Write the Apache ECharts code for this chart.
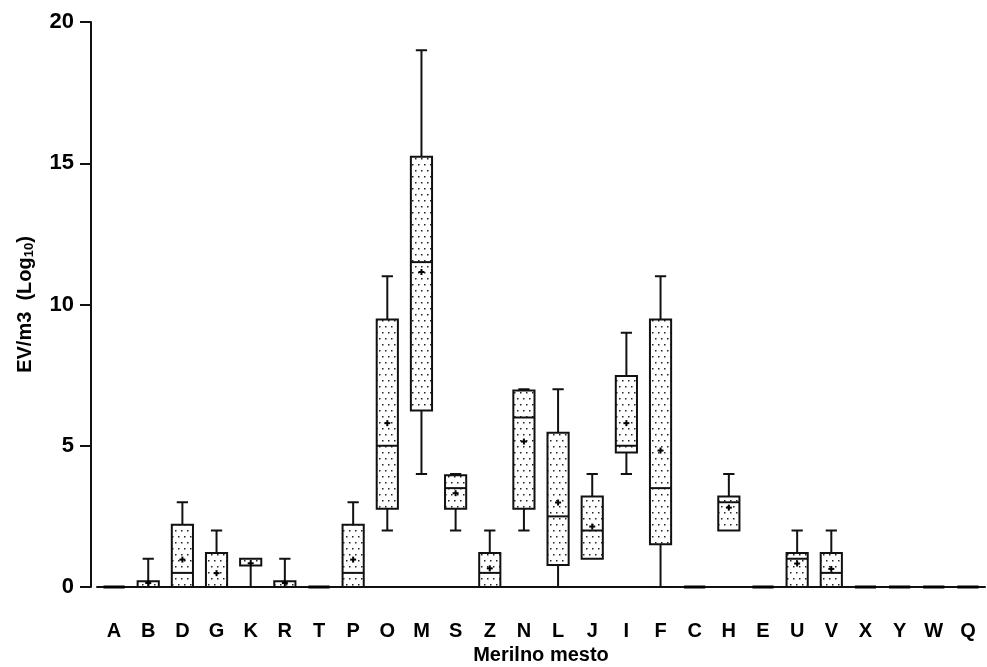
<!DOCTYPE html>
<html>
<head>
<meta charset="utf-8">
<script src="https://cdn.jsdelivr.net/npm/echarts@6/dist/echarts.min.js"></script>
<style>
	html, body { margin: 0; padding: 0; background: #fff; }
	#chart { width: 987px; height: 667px; }
</style>
</head>
<body>
<div id="chart"></div>
<script>
	var categories = ['A', 'B', 'D', 'G', 'K', 'R', 'T', 'P', 'O', 'M', 'S', 'Z', 'N', 'L', 'J', 'I', 'F', 'C', 'H', 'E', 'U', 'V', 'X', 'Y', 'W', 'Q'];
	var minVals    = [0, 0,    0,    0,    0,    0,    0, 0,    2,    4,     2,    0,    2,    0,    1,    4,    0,    0, 2,    0, 0,    0,    0, 0, 0, 0];
	var q1Vals     = [0, 0,    0,    0,    0.76, 0,    0, 0,    2.77, 6.25,  2.77, 0,    2.77, 0.78, 1,    4.76, 1.51, 0, 2,    0, 0,    0,    0, 0, 0, 0];
	var medianVals = [0, 0,    0.5,  0,    1,    0,    0, 0.5,  5,    11.5,  3.5,  0.5,  6,    2.5,  2,    5,    3.5,  0, 3,    0, 1,    0.5,  0, 0, 0, 0];
	var q3Vals     = [0, 0.2,  2.2,  1.2,  1,    0.2,  0, 2.2,  9.47, 15.23, 3.96, 1.2,  6.96, 5.46, 3.2,  7.47, 9.47, 0, 3.2,  0, 1.2,  1.2,  0, 0, 0, 0];
	var maxVals    = [0, 1,    3,    2,    1,    1,    0, 3,    11,   19,    4,    2,    7,    7,    4,    9,    11,   0, 4,    0, 2,    2,    0, 0, 0, 0];
	var meanVals   = [0, 0.14, 0.97, 0.49, 0.84, 0.14, 0, 0.97, 5.8,  11.15, 3.32, 0.66, 5.15, 2.99, 2.14, 5.8,  4.83, 0, 2.81, 0, 0.83, 0.64, 0, 0, 0, 0];
	var yTicks = [0, 5, 10, 15, 20];

	// dotted fill
	var dots = document.createElement('canvas');
	dots.width = 6;
	dots.height = 12;
	var ctx = dots.getContext('2d');
	ctx.fillStyle = '#fff';
	ctx.fillRect(0, 0, 6, 12);
	ctx.fillStyle = '#222';
	ctx.fillRect(1, 2, 1.5, 1.5);
	ctx.fillRect(4, 8, 1.5, 1.5);

	var boxData = categories.map(function (c, i) {
		return [i, minVals[i], q1Vals[i], medianVals[i], q3Vals[i], maxVals[i], meanVals[i]];
	});

	var lineStyle = { stroke: '#111', lineWidth: 2 };

	function renderBox(params, api) {
		var i = api.value(0);
		var x = api.coord([i, 0])[0];
		var step = api.size([1, 0])[0];
		var bw = step * 0.62, cw = step * 0.33;
		function y(v) { return api.coord([i, v])[1]; }
		var mn = api.value(1), q1 = api.value(2), md = api.value(3), q3 = api.value(4), mx = api.value(5), mean = api.value(6);
		var kids = [];
		if (mx > q3) {
			kids.push({ type: 'line', shape: { x1: x, y1: y(q3), x2: x, y2: y(mx) }, style: lineStyle });
			kids.push({ type: 'line', shape: { x1: x - cw / 2, y1: y(mx), x2: x + cw / 2, y2: y(mx) }, style: lineStyle });
		}
		if (mn < q1) {
			kids.push({ type: 'line', shape: { x1: x, y1: y(q1), x2: x, y2: y(mn) }, style: lineStyle });
			kids.push({ type: 'line', shape: { x1: x - cw / 2, y1: y(mn), x2: x + cw / 2, y2: y(mn) }, style: lineStyle });
		}
		if (q3 > q1) {
			kids.push({
				type: 'rect',
				shape: { x: x - bw / 2, y: y(q3), width: bw, height: y(q1) - y(q3) },
				style: { fill: { image: dots, repeat: 'repeat' }, stroke: '#111', lineWidth: 2 }
			});
		} else {
			kids.push({ type: 'line', shape: { x1: x - bw / 2, y1: y(q1), x2: x + bw / 2, y2: y(q1) }, style: { stroke: '#000', lineWidth: 3 } });
		}
		if (md > q1 && md < q3) {
			kids.push({ type: 'line', shape: { x1: x - bw / 2, y1: y(md), x2: x + bw / 2, y2: y(md) }, style: lineStyle });
		}
		if (mean > 0) {
			var my = y(mean);
			kids.push({ type: 'line', shape: { x1: x - 3, y1: my, x2: x + 3, y2: my }, style: { stroke: '#000', lineWidth: 2 } });
			kids.push({ type: 'line', shape: { x1: x, y1: my - 3, x2: x, y2: my + 3 }, style: { stroke: '#000', lineWidth: 2 } });
		}
		return { type: 'group', children: kids };
	}

	var font = 'Liberation Sans';
	var chart = echarts.init(document.getElementById('chart'));
	chart.setOption({
		backgroundColor: '#fff',
		animation: false,
		grid: { left: 97, right: 2, top: 22, bottom: 80, containLabel: false, outerBoundsMode: 'none' },
		xAxis: {
			type: 'category',
			data: categories,
			name: 'Merilno mesto',
			nameLocation: 'middle',
			nameGap: 51,
			nameTextStyle: { color: '#000', fontSize: 20, fontWeight: 'bold', fontFamily: font },
			axisLine: { lineStyle: { color: '#111', width: 2 } },
			axisTick: { alignWithLabel: true, length: 12, lineStyle: { color: '#111', width: 2 } },
			axisLabel: { color: '#000', fontSize: 20, fontWeight: 'bold', fontFamily: font, margin: 34 },
			splitLine: { show: false }
		},
		yAxis: {
			type: 'value',
			min: yTicks[0],
			max: yTicks[yTicks.length - 1],
			interval: 5,
			offset: 6,
			name: 'EV/m3  (Log{sub|10})',
			nameLocation: 'middle',
			nameGap: 55,
			nameTextStyle: {
				color: '#000', fontSize: 20, fontWeight: 'bold', fontFamily: font,
				rich: { sub: { fontSize: 13, fontWeight: 'bold', fontFamily: font, verticalAlign: 'bottom', padding: [8, 0, 0, 0] } }
			},
			axisLine: { show: true, lineStyle: { color: '#111', width: 2 } },
			axisTick: { show: true, length: 11, lineStyle: { color: '#111', width: 2 } },
			axisLabel: { color: '#000', fontSize: 22, fontWeight: 'bold', fontFamily: font, margin: 17 },
			splitLine: { show: false }
		},
		series: [{
			type: 'custom',
			renderItem: renderBox,
			encode: { x: 0, y: [1, 2, 3, 4, 5] },
			data: boxData
		}]
	});
</script>
</body>
</html>
